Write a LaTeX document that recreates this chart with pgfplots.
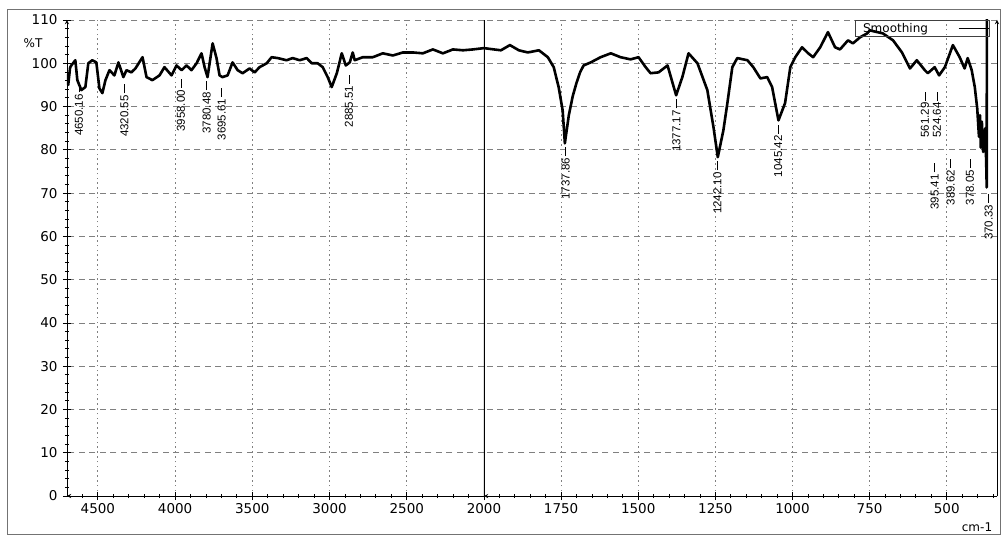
\documentclass[border=0pt]{standalone}
\usepackage{pgfplots}
\pgfplotsset{compat=1.18}
\usepackage{fontspec}
\setmainfont{DejaVu Sans}
\newfontfamily\labfont{Liberation Sans}
\newcommand{\tickf}{\fontsize{13.5}{15}\selectfont}
\newcommand{\pkf}{\labfont\fontsize{11.5}{12}\selectfont}
\newcommand{\pk}[3]{\node[rotate=90,anchor=east,inner sep=0.5pt,font=\pkf] at (axis cs:#1,#2) {#3\,\rule[0.3em]{9pt}{0.8pt}};}
\pgfplotsset{
  irstyle/.style={
    scale only axis, height=476pt, ymin=0, ymax=110,
    x dir=reverse,
    ytick={0,10,...,110},
    grid=major,
    major x grid style={black!50, line width=0.8pt, dash pattern=on 1.6pt off 3.2pt},
    major y grid style={black!50, line width=0.8pt, dash pattern=on 6pt off 4.5pt},
    tick align=outside,
    major tick length=8pt, minor tick length=4pt,
    every tick/.style={black, line width=0.8pt},
    axis line style={-, black, line width=0.9pt},
    tick label style={font=\tickf},
    /pgf/number format/assume math mode=true,
    /pgf/number format/1000 sep={},
    axis x line=bottom,
  }
}
\begin{document}
\begin{tikzpicture}
\path[use as bounding box] (-67pt,-43pt) rectangle (935pt,496pt);
\draw[black!55, line width=0.8pt] (-60pt,-38pt) rectangle (933pt,487pt);
% left (compressed) part
\begin{axis}[irstyle, at={(0pt,0pt)}, anchor=south west, width=417pt,
  xmin=2000, xmax=4700,
  xtick={4500,4000,3500,3000,2500,2000},
  minor xtick={4600,4400,4300,4200,4100,3900,3800,3700,3600,3400,3300,3200,3100,2900,2800,2700,2600,2400,2300,2200,2100},
  axis y line=left, minor y tick num=4,
  yticklabel style={xshift=-2pt},
]
\addplot[black, line width=2.6pt, line join=round] table {
4698 97.5
4692 95.0
4680 99.0
4672 99.5
4646 100.7
4633 96.1
4607 93.8
4581 94.5
4562 100.0
4536 100.7
4510 100.2
4490 94.2
4471 93.1
4451 96.1
4425 98.4
4393 97.2
4367 100.2
4335 96.8
4315 98.4
4283 97.9
4257 98.8
4211 101.4
4185 96.8
4147 96.1
4101 97.2
4069 99.1
4023 97.2
3991 99.5
3958 98.4
3926 99.5
3894 98.4
3861 100.0
3829 102.3
3809 99.1
3790 96.8
3757 104.6
3732 101.2
3712 97.2
3693 96.8
3660 97.2
3628 100.2
3595 98.4
3563 97.7
3518 98.8
3485 97.9
3453 99.1
3407 100.0
3375 101.4
3336 101.2
3278 100.7
3239 101.2
3193 100.7
3148 101.2
3115 100.0
3077 100.0
3044 99.1
3012 96.8
2986 94.5
2953 97.7
2921 102.3
2895 99.5
2869 100.2
2850 102.5
2837 100.7
2785 101.4
2720 101.4
2655 102.3
2590 101.8
2525 102.5
2460 102.5
2396 102.3
2331 103.2
2266 102.3
2201 103.2
2136 103.0
2071 103.2
2000 103.5
};
\pk{4622}{95.5}{4650.16}
\pk{4328}{95.3}{4320.55}
\pk{3962}{96.5}{3958.00}
\pk{3796}{96.0}{3780.48}
\pk{3699}{94.5}{3695.61}
\pk{2875}{97.5}{2885.51}
\end{axis}
\node[font=\fontsize{12}{13}\selectfont] at (-34pt,453pt) {\%T};
% right (expanded) part
\begin{axis}[irstyle, at={(417pt,0pt)}, anchor=south west, width=513pt,
  xmin=337, xmax=2000,
  xtick={2000,1750,1500,1250,1000,750,500},
  xticklabels={,1750,1500,1250,1000,750,500},
  minor xtick={1950,1900,1850,1800,1700,1650,1600,1550,1450,1400,1350,1300,1200,1150,1100,1050,950,900,850,800,700,650,600,550,450,400,350},
  axis y line=right, yticklabels={}, y tick style={draw=none},
  legend plot pos=right,
  legend image code/.code={\draw[black, line width=0.8pt] (0pt,0pt) -- (30pt,0pt);},
  legend style={at={(rel axis cs:0.986,0.999)}, anchor=north east, draw=black!75, line width=0.8pt,
    fill=none, inner sep=0.5pt, font=\fontsize{12}{12}\selectfont, cells={inner sep=1pt}},
]
\addplot[black, line width=2.6pt, line join=round] table {
2000 103.5
1968 103.2
1945 103.0
1916 104.2
1887 103.0
1858 102.5
1822 103.0
1793 101.4
1774 99.1
1758 94.5
1745 89.1
1737.86 81.5
1725 88.0
1712 92.5
1700 95.5
1688 98.0
1677 99.5
1654 100.2
1622 101.4
1589 102.3
1557 101.4
1525 100.9
1499 101.4
1476 99.1
1460 97.7
1434 97.9
1405 99.5
1377.17 92.6
1357 96.8
1337 102.3
1308 100.0
1276 93.8
1256 85.2
1242.10 78.3
1224 84.5
1211 90.8
1195 99.1
1179 101.2
1146 100.7
1127 99.1
1104 96.5
1082 96.8
1066 94.5
1045.42 86.8
1024 90.8
1007 99.1
991 101.4
969 103.7
949 102.3
933 101.4
910 103.7
885 107.2
862 103.7
846 103.2
820 105.3
804 104.6
781 106.0
758 106.9
749 107.6
707 106.9
674 105.3
645 102.5
619 98.8
597 100.7
571 98.4
561.29 97.7
539 99.1
524.64 97.2
506 99.1
480 104.2
458 101.4
442 98.8
432 101.2
419 98.4
409 94.5
401 89.5
395.41 83.0
392 88.0
389.62 80.5
386 86.5
382 79.5
378.05 81.0
375 85.0
372 77.0
370.33 71.3
369.8 115
};
\addlegendentry{\makebox[98pt][l]{\hspace{5pt}Smoothing}}
\draw[black, line width=1.3pt] (rel axis cs:0,0) -- (rel axis cs:0,1);
\pk{1735}{80.8}{1737.86}
\pk{1376}{91.8}{1377.17}
\pk{1243}{77.5}{1242.10}
\pk{1046}{86.0}{1045.42}
\pk{571}{93.6}{561.29}
\pk{532}{93.6}{524.64}
\pk{539}{77.0}{395.41}
\pk{487}{78.0}{389.62}
\pk{425}{78.0}{378.05}
\pk{364}{70.0}{370.33}
\end{axis}
\node[font=\fontsize{12}{13}\selectfont] at (910pt,-31pt) {cm-1};
\end{tikzpicture}
\end{document}
